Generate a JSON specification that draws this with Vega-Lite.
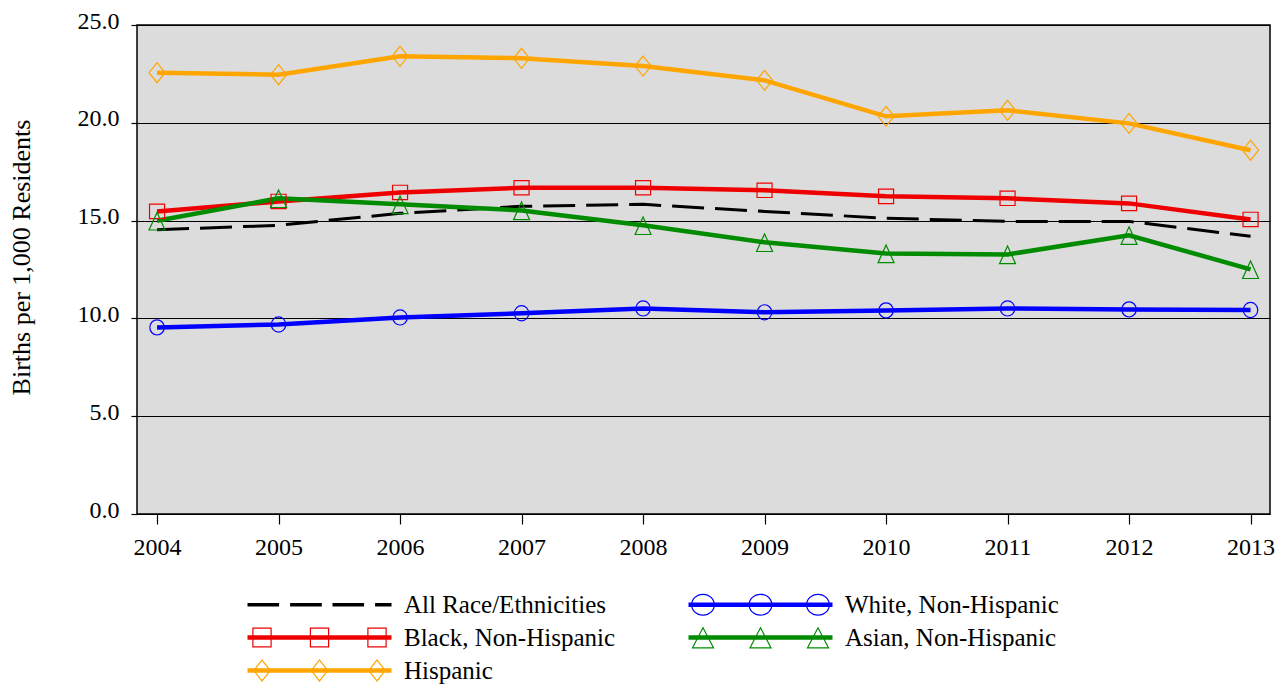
{
  "$schema": "https://vega.github.io/schema/vega-lite/v6.json",
  "width": 1133,
  "height": 489,
  "autosize": "none",
  "padding": {"left": 137, "top": 25, "right": 14, "bottom": 173},
  "background": "white",
  "config": {
    "font": "Liberation Serif",
    "view": {"fill": "#dcdcdc", "stroke": "black", "strokeWidth": 1.5},
    "axis": {"labelFont": "Liberation Serif", "labelFontSize": 24, "labelColor": "black", "titleFont": "Liberation Serif", "titleFontSize": 26, "titleFontWeight": "normal", "titleColor": "black", "tickColor": "black", "tickWidth": 1.2, "domain": false}
  },
  "data": {"values": [
    {"year": 2004, "group": "All Race/Ethnicities", "value": 14.53},
    {"year": 2005, "group": "All Race/Ethnicities", "value": 14.76},
    {"year": 2006, "group": "All Race/Ethnicities", "value": 15.37},
    {"year": 2007, "group": "All Race/Ethnicities", "value": 15.73},
    {"year": 2008, "group": "All Race/Ethnicities", "value": 15.83},
    {"year": 2009, "group": "All Race/Ethnicities", "value": 15.47},
    {"year": 2010, "group": "All Race/Ethnicities", "value": 15.12},
    {"year": 2011, "group": "All Race/Ethnicities", "value": 14.96},
    {"year": 2012, "group": "All Race/Ethnicities", "value": 14.96},
    {"year": 2013, "group": "All Race/Ethnicities", "value": 14.2},
    {"year": 2004, "group": "White, Non-Hispanic", "value": 9.54},
    {"year": 2005, "group": "White, Non-Hispanic", "value": 9.69},
    {"year": 2006, "group": "White, Non-Hispanic", "value": 10.05},
    {"year": 2007, "group": "White, Non-Hispanic", "value": 10.26},
    {"year": 2008, "group": "White, Non-Hispanic", "value": 10.51},
    {"year": 2009, "group": "White, Non-Hispanic", "value": 10.31},
    {"year": 2010, "group": "White, Non-Hispanic", "value": 10.41},
    {"year": 2011, "group": "White, Non-Hispanic", "value": 10.51},
    {"year": 2012, "group": "White, Non-Hispanic", "value": 10.46},
    {"year": 2013, "group": "White, Non-Hispanic", "value": 10.43},
    {"year": 2004, "group": "Black, Non-Hispanic", "value": 15.47},
    {"year": 2005, "group": "Black, Non-Hispanic", "value": 15.98},
    {"year": 2006, "group": "Black, Non-Hispanic", "value": 16.44},
    {"year": 2007, "group": "Black, Non-Hispanic", "value": 16.68},
    {"year": 2008, "group": "Black, Non-Hispanic", "value": 16.68},
    {"year": 2009, "group": "Black, Non-Hispanic", "value": 16.55},
    {"year": 2010, "group": "Black, Non-Hispanic", "value": 16.24},
    {"year": 2011, "group": "Black, Non-Hispanic", "value": 16.14},
    {"year": 2012, "group": "Black, Non-Hispanic", "value": 15.88},
    {"year": 2013, "group": "Black, Non-Hispanic", "value": 15.06},
    {"year": 2004, "group": "Asian, Non-Hispanic", "value": 14.99},
    {"year": 2005, "group": "Asian, Non-Hispanic", "value": 16.14},
    {"year": 2006, "group": "Asian, Non-Hispanic", "value": 15.83},
    {"year": 2007, "group": "Asian, Non-Hispanic", "value": 15.52},
    {"year": 2008, "group": "Asian, Non-Hispanic", "value": 14.76},
    {"year": 2009, "group": "Asian, Non-Hispanic", "value": 13.89},
    {"year": 2010, "group": "Asian, Non-Hispanic", "value": 13.32},
    {"year": 2011, "group": "Asian, Non-Hispanic", "value": 13.27},
    {"year": 2012, "group": "Asian, Non-Hispanic", "value": 14.25},
    {"year": 2013, "group": "Asian, Non-Hispanic", "value": 12.51},
    {"year": 2004, "group": "Hispanic", "value": 22.56},
    {"year": 2005, "group": "Hispanic", "value": 22.46},
    {"year": 2006, "group": "Hispanic", "value": 23.4},
    {"year": 2007, "group": "Hispanic", "value": 23.3},
    {"year": 2008, "group": "Hispanic", "value": 22.9},
    {"year": 2009, "group": "Hispanic", "value": 22.17},
    {"year": 2010, "group": "Hispanic", "value": 20.33},
    {"year": 2011, "group": "Hispanic", "value": 20.64},
    {"year": 2012, "group": "Hispanic", "value": 19.97},
    {"year": 2013, "group": "Hispanic", "value": 18.6}
  ]},
  "encoding": {
    "x": {"field": "year", "type": "quantitative",
      "scale": {"domain": [2003.835, 2013.16], "nice": false, "zero": false},
      "axis": {"title": null, "values": [2004, 2005, 2006, 2007, 2008, 2009, 2010, 2011, 2012, 2013], "format": "d", "tickSize": 10, "labelPadding": 11, "grid": false, "labelFlush": false}},
    "y": {"field": "value", "type": "quantitative",
      "scale": {"domain": [0, 25], "nice": false, "zero": true},
      "axis": {"title": "Births per 1,000 Residents", "values": [0, 5, 10, 15, 20, 25], "format": ".1f", "grid": true, "gridColor": "black", "gridWidth": 1, "gridOpacity": 1, "tickSize": 6, "labelPadding": 12, "labelBaseline": "alphabetic", "labelOffset": 3, "titleX": -108, "titleY": 232, "titleAngle": -90, "titleBaseline": "alphabetic", "titleAlign": "center"}},
    "color": {"field": "group", "type": "nominal",
      "scale": {"domain": ["All Race/Ethnicities", "Black, Non-Hispanic", "Hispanic", "White, Non-Hispanic", "Asian, Non-Hispanic"],
                "range": ["black", "#EE0000", "#FFA500", "#0000FF", "#008B00"]},
      "legend": {
        "title": null, "orient": "none", "legendX": 108, "legendY": 567, "columns": 2,
        "columnPadding": 70, "rowPadding": 7, "padding": 0,
        "labelFont": "Liberation Serif", "labelFontSize": 25, "labelColor": "black", "labelLimit": 500,
        "labelOffset": 134, "symbolSize": 400, "symbolOffset": 0,
        "encode": {"symbols": {"update": {
          "shape": {"signal": "datum.value === 'All Race/Ethnicities' ? 'M-1,-0.17H2.16V0.17H-1Z M3.26,-0.17H6.43V0.17H3.26Z M7.5,-0.17H10.66V0.17H7.5Z M11.76,-0.17H13.4V0.17H11.76Z' : datum.value === 'White, Non-Hispanic' ? 'M-1,-0.22H13.4V0.22H-1Z M1.65,0A1.2,1.1 0 1 1 -0.75,0A1.2,1.1 0 1 1 1.65,0Z M1.53,0A1.08,0.98 0 1 0 -0.63,0A1.08,0.98 0 1 0 1.53,0Z M7.4,0A1.2,1.1 0 1 1 5,0A1.2,1.1 0 1 1 7.4,0Z M7.28,0A1.08,0.98 0 1 0 5.12,0A1.08,0.98 0 1 0 7.28,0Z M13.15,0A1.2,1.1 0 1 1 10.75,0A1.2,1.1 0 1 1 13.15,0Z M13.03,0A1.08,0.98 0 1 0 10.87,0A1.08,0.98 0 1 0 13.03,0Z' : datum.value === 'Black, Non-Hispanic' ? 'M-1,-0.22H13.4V0.22H-1Z M-0.52,-1H1.42V1H-0.52Z M-0.4,-0.88V0.88H1.3V-0.88Z M5.23,-1H7.17V1H5.23Z M5.35,-0.88V0.88H7.05V-0.88Z M10.98,-1H12.92V1H10.98Z M11.1,-0.88V0.88H12.8V-0.88Z' : datum.value === 'Asian, Non-Hispanic' ? 'M-1,-0.22H13.4V0.22H-1Z M0.45,-1.1L1.6,1.1L-0.7,1.1Z M0.45,-0.84L-0.503,0.98L1.403,0.98Z M6.2,-1.1L7.35,1.1L5.05,1.1Z M6.2,-0.84L5.247,0.98L7.153,0.98Z M11.95,-1.1L13.1,1.1L10.8,1.1Z M11.95,-0.84L10.997,0.98L12.903,0.98Z' : 'M-1,-0.22H13.4V0.22H-1Z M0.45,-1.15L1.35,0L0.45,1.15L-0.45,0Z M0.45,-0.955L-0.3,0L0.45,0.955L1.2,0Z M6.2,-1.15L7.1,0L6.2,1.15L5.3,0Z M6.2,-0.955L5.45,0L6.2,0.955L6.95,0Z M11.95,-1.15L12.85,0L11.95,1.15L11.05,0Z M11.95,-0.955L11.2,0L11.95,0.955L12.7,0Z'"},
          "fill": {"signal": "scale('color', datum.value)"},
          "fillOpacity": {"value": 1},
          "stroke": {"value": "transparent"},
          "strokeWidth": {"value": 0},
          "strokeDash": {"value": [1, 0]},
          "size": {"value": 400},
          "opacity": {"value": 1}
        }}}
      }}
  },
  "layer": [
    {
      "transform": [{"filter": "datum.group === 'All Race/Ethnicities'"}],
      "mark": {"type": "line", "strokeDash": [32, 11], "strokeWidth": 3},
      "encoding": {}
    },
    {
      "transform": [{"filter": "datum.group !== 'All Race/Ethnicities'"}],
      "mark": {"type": "line", "strokeWidth": 4.5},
      "encoding": {}
    },
    {
      "transform": [{"filter": "datum.group !== 'All Race/Ethnicities'"}],
      "mark": {"type": "point", "filled": false, "strokeWidth": 1.2, "size": 256, "opacity": 1},
      "encoding": {
        "shape": {"field": "group", "type": "nominal", "legend": null,
          "scale": {"domain": ["White, Non-Hispanic", "Black, Non-Hispanic", "Asian, Non-Hispanic", "Hispanic"],
                    "range": ["M0.9,0A0.9,0.95 0 1 1 -0.9,0A0.9,0.95 0 1 1 0.9,0Z", "M-0.94,-0.9H0.94V0.9H-0.94Z", "M0,-1.05L1,1.15L-1,1.15Z", "M0,-1.25L1,0L0,1.25L-1,0Z"]}}
      }
    }
  ]
}
